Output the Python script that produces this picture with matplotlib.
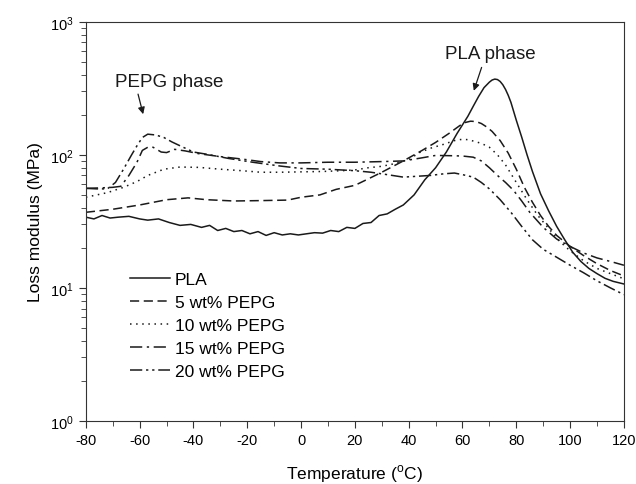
import numpy as np
import matplotlib
matplotlib.use("Agg")
import matplotlib.pyplot as plt
from matplotlib.ticker import MultipleLocator, LogLocator, NullFormatter

plt.rcParams['font.family'] = ['Liberation Sans', 'DejaVu Sans']
plt.rcParams['axes.unicode_minus'] = False

# NOTE values
t_pla = [-80, -77, -74, -71, -68, -64, -60, -57, -53, -49, -45, -41, -37, -34, -31, -28,
         -25, -22, -19, -16, -13, -10, -7, -4, -1, 2, 5, 8, 11, 14, 17, 20, 23, 26, 29,
         32, 35, 38, 42, 46, 50, 54, 58, 62, 64, 66, 68, 70, 71, 72, 73, 74, 75, 76, 77,
         78, 80, 82, 84, 86, 89, 92, 95, 98, 101, 104, 107, 110, 113, 116, 120]
e_pla = [34, 33, 35, 33.5, 34, 34.5, 33, 32.3, 33, 31, 29.5, 30, 28.5, 29.5, 27, 28,
         26.5, 27, 25.5, 26.5, 24.8, 26, 25, 25.5, 25, 25.5, 26, 25.8, 27, 26.5, 28.5, 28,
         30.5, 31, 35, 36, 39, 42, 50, 65, 80, 105, 145, 195, 232, 275, 320, 352, 365,
         371, 368, 356, 336, 310, 280, 248, 182, 136, 100, 75, 51, 38, 29, 23, 18.5, 15.8,
         14, 12.8, 11.8, 11.2, 10.7]

t_5 = [-80, -70, -60, -50, -42, -35, -25, -15, -5, 0, 7, 13, 20, 25, 30, 38, 45, 50, 55,
       59, 61, 63, 65, 67, 69, 71, 74, 77, 80, 83, 86, 89, 92, 95, 100, 105, 110, 115, 120]
e_5 = [37, 39, 42, 46, 47.5, 46, 45, 45.3, 45.7, 48, 50, 55, 59, 66, 74, 90, 108, 124,
       145, 166, 175, 179, 178, 172, 162, 150, 128, 103, 78, 57, 44, 35, 29, 24.8, 20.5,
       17.5, 15.2, 13.5, 12.3]

t_10 = [-80, -72, -66, -61, -57, -51, -45, -38, -30, -22, -15, -8, 0, 8, 15, 20, 25, 30,
        35, 40, 44, 48, 53, 57, 60, 62, 64, 67, 70, 73, 76, 80, 84, 88, 92, 96, 100, 105,
        110, 115, 120]
e_10 = [48, 52, 57, 63, 70, 78, 81, 80.5, 78, 76, 74, 74, 74.5, 75, 76, 77, 80, 82, 86,
        92, 104, 112, 120, 128, 131, 130, 127, 122, 114, 100, 84, 62, 46, 35, 28, 22.5,
        19, 16, 14, 12.8, 11.7]

t_15 = [-80, -74, -70, -67, -64, -61, -59, -57, -55, -52, -50, -47, -43, -38, -30, -22,
        -15, -8, 0, 10, 20, 30, 38, 45, 50, 56, 60, 64, 67, 70, 73, 76, 79, 82, 85, 90, 95,
        100, 105, 110, 115, 120]
e_15 = [56, 56.5, 57, 58, 70, 88, 108, 114, 114, 105, 104, 110, 107, 102, 97, 93, 89, 87,
        87, 88, 88, 89, 90, 95, 99, 98.5, 98, 96, 90, 80, 70, 62, 54, 45, 37, 28.5, 23.3,
        20.5, 18.3, 16.8, 15.8, 14.8]

t_20 = [-80, -76, -72, -69, -66, -63, -61, -59, -57, -54, -51, -48, -45, -40, -35, -27,
        -18, -8, 0, 10, 20, 26, 32, 38, 43, 48, 53, 57, 60, 64, 67, 70, 74, 78, 82, 86, 90,
        95, 100, 105, 110, 115, 120]
e_20 = [56, 55.5, 55.5, 62, 78, 100, 117, 135, 143, 141, 135, 125, 117, 105, 101, 94, 88,
        82.5, 79, 78, 76, 74, 71, 68, 69, 70, 72, 73, 71, 68, 62, 55.5, 46, 37, 29, 23,
        19.5, 17, 14.8, 13, 11.3, 10, 8.9]

labels = ["PLA", "5 wt% PEPG", "10 wt% PEPG", "15 wt% PEPG", "20 wt% PEPG"]

fig = plt.figure(figsize=(6.36, 4.85), dpi=100)
ax = fig.add_axes([0.135, 0.13, 0.846, 0.823])

c = "#1a1a1a"
lw = 1.1
ax.plot(t_pla, e_pla, color=c, lw=lw, label=labels[0])
ax.plot(t_5, e_5, color=c, lw=lw, dashes=(6, 3), label=labels[1])
ax.plot(t_10, e_10, color=c, lw=lw, dashes=(1, 3), label=labels[2])
ax.plot(t_15, e_15, color=c, lw=lw, dashes=(8, 3, 1.5, 3), label=labels[3])
ax.plot(t_20, e_20, color=c, lw=lw, dashes=(8, 2.5, 1.5, 2.5, 1.5, 2.5), label=labels[4])

ax.set_yscale("log")
ax.set_xlim(-80, 120)
ax.set_ylim(1, 1000)
ax.xaxis.set_major_locator(MultipleLocator(20))
ax.xaxis.set_minor_locator(MultipleLocator(10))
ax.yaxis.set_minor_locator(LogLocator(base=10, subs=np.arange(2, 10)))
ax.yaxis.set_minor_formatter(NullFormatter())
ax.tick_params(which="both", direction="out", top=False, right=False, labelsize=10.5,
               color="#333333")
ax.tick_params(which="major", length=5)
ax.tick_params(which="minor", length=3.5)
for s in ax.spines.values():
    s.set_color("#333333")

ax.set_xlabel(r"Temperature ($^\mathregular{o}$C)", fontsize=12.5, labelpad=11)
ax.set_ylabel("Loss modulus (MPa)", fontsize=12.5, labelpad=5)

# annotations: text and arrow drawn separately
arrow = dict(arrowstyle="-|>", color=c, lw=0.9, shrinkA=0, shrinkB=0, mutation_scale=10)
ax.text(-49, 355, "PEPG phase", fontsize=13.5, ha="center", va="center", color=c)
ax.annotate("", xy=(-58.7, 202), xytext=(-60.6, 286), arrowprops=arrow)
ax.text(70.5, 580, "PLA phase", fontsize=13.5, ha="center", va="center", color=c)
ax.annotate("", xy=(64.2, 303), xytext=(67.1, 454), arrowprops=arrow)

ax.legend(loc="upper left", bbox_to_anchor=(0.07, 0.39), frameon=False, fontsize=12.5,
          handlelength=2.3, handletextpad=0.25, labelspacing=0.45, borderaxespad=0)

fig.savefig("out.png", dpi=100)
